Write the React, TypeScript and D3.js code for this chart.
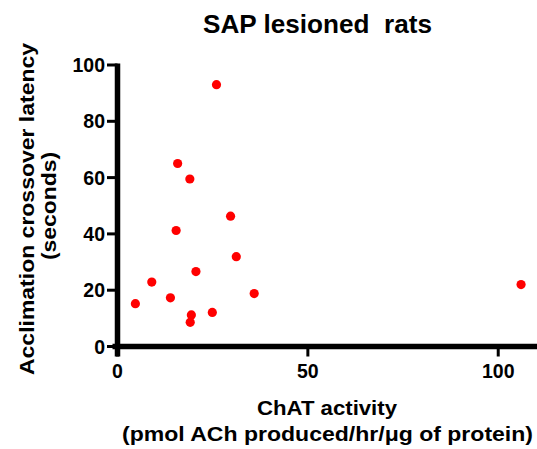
import React from "react";
import * as d3 from "d3";

const chatActivity = [4.7, 9.0, 13.9, 15.4, 15.8, 19.0, 19.4, 19.1, 20.6, 24.9, 26.0, 29.7, 31.2, 35.9, 106.0];
const latency = [15.2, 22.9, 17.3, 41.2, 65.0, 59.5, 11.2, 8.6, 26.6, 12.1, 93.0, 46.3, 31.9, 18.8, 22.0];
const xTicks = [0, 50, 100];
const yTicks = [0, 20, 40, 60, 80, 100];
const title = "SAP lesioned\u00a0 rats";
const xLabel1 = "ChAT activity";
const xLabel2 = "(pmol ACh produced/hr/\u03bcg of protein)";
const yLabel1 = "Acclimation crossover latency";
const yLabel2 = "(seconds)";

export default function App() {
  const W = 537, H = 449;
  const x = d3.scaleLinear().domain([0, 110]).range([117.5, 536.3]);
  const y = d3.scaleLinear().domain([0, 100]).range([346.5, 65]);
  const font = "Arial, 'Liberation Sans', Helvetica, sans-serif";
  const pts = chatActivity.map((v, i) => ({ x: v, y: latency[i] }));
  return (
    <svg width={W} height={H} style={{ position: "absolute", left: 0, top: 0 }} fontFamily={font} fontWeight="bold">
      <text x={317.5} y={33} textAnchor="middle" fontSize={25} textLength={229} lengthAdjust="spacingAndGlyphs">{title}</text>
      {/* y axis */}
      <line x1={x(0)} x2={x(0)} y1={y(100) - 1.5} y2={y(0) + 10} stroke="#000" strokeWidth={5.5} />
      {yTicks.map((t) => (
        <g key={"y" + t}>
          <line x1={x(0) - 10.5} x2={x(0)} y1={y(t)} y2={y(t)} stroke="#000" strokeWidth={3} />
          <text x={105} y={y(t) + 7} textAnchor="end" fontSize={19.5}>{t}</text>
        </g>
      ))}
      {/* x axis */}
      <line x1={x(0) - 5} x2={W} y1={y(0)} y2={y(0)} stroke="#000" strokeWidth={5.5} />
      {xTicks.map((t) => (
        <g key={"x" + t}>
          <line x1={x(t)} x2={x(t)} y1={y(0)} y2={y(0) + 10} stroke="#000" strokeWidth={3} />
          <text x={x(t)} y={378} textAnchor="middle" fontSize={19.5}>{t}</text>
        </g>
      ))}
      <text x={327} y={415} textAnchor="middle" fontSize={20} textLength={140} lengthAdjust="spacingAndGlyphs">{xLabel1}</text>
      <text x={327.5} y={441} textAnchor="middle" fontSize={20} textLength={411} lengthAdjust="spacingAndGlyphs">{xLabel2}</text>
      <text transform="translate(34,209) rotate(-90)" textAnchor="middle" fontSize={20} textLength={332} lengthAdjust="spacingAndGlyphs">{yLabel1}</text>
      <text transform="translate(55.5,206) rotate(-90)" textAnchor="middle" fontSize={20} textLength={108} lengthAdjust="spacingAndGlyphs">{yLabel2}</text>
      {pts.map((p, i) => (
        <circle key={i} cx={x(p.x)} cy={y(p.y)} r={4.6} fill="#ff0000" />
      ))}
    </svg>
  );
}
